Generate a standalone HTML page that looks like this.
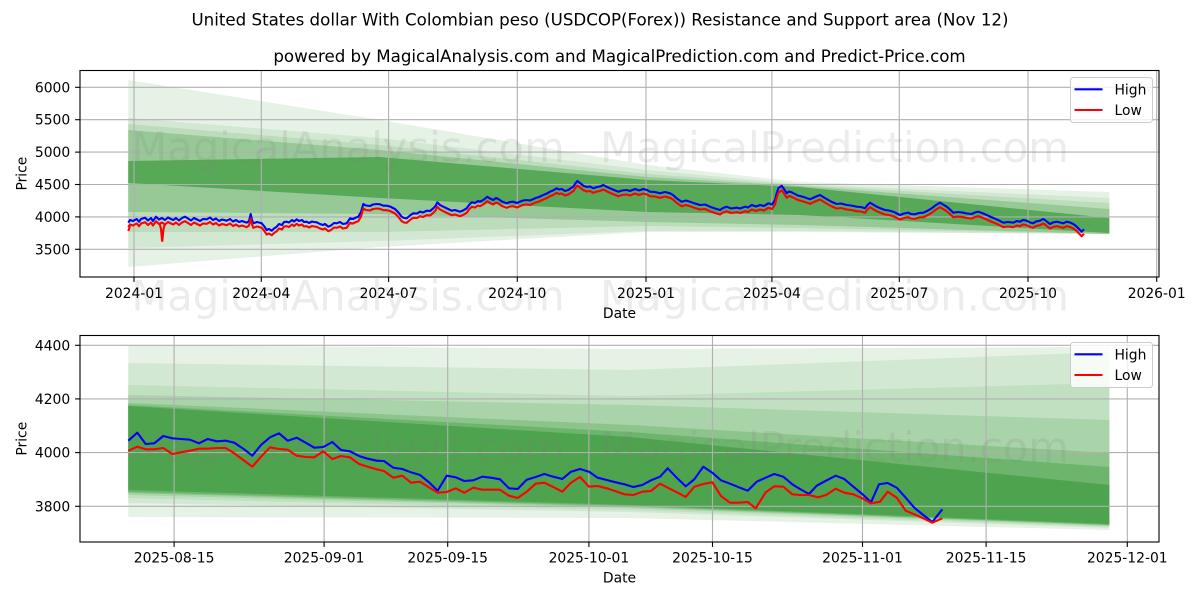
<!DOCTYPE html>
<html><head><meta charset="utf-8"><style>
html,body{margin:0;padding:0;background:#fff;}
svg{display:block;}
text{font-family:"DejaVu Sans","Liberation Sans",sans-serif;fill:#000;}
</style></head><body>
<svg width="1200" height="600" viewBox="0 0 1200 600" xmlns="http://www.w3.org/2000/svg">
<rect width="1200" height="600" fill="#fff"/>
<defs>
<polyline id="hiTop" fill="none" stroke-width="2.1" stroke-linejoin="round" points="128.3,222.7 130,220 133,221 136.7,219 139,221.7 141,219 145,217.7 148,220.5 151,218 153,221 156,216.7 159,219.5 162,218 165,220 168,217.5 171,219 173.3,220 176,218 179,220.5 182,218 185,216.7 188,218.5 191,220.5 194,218 197,219.5 200,221 203,219 206.7,219.3 210,217.5 213,220 216,218.5 219,221 222,219.5 226.7,220.7 230,219 233,221.5 236,220 239,222 242,221 246.7,222.7 249,221 250.7,214 252,220 253.3,223.3 257,222 261.7,223.3 264,226 266.7,230 269,229 271.7,230.7 274,228.5 276.7,226.7 279,224 282,225 284,222 286.7,221.7 289,222.5 292,220 294,221.5 296.7,219.3 299,221 302,220 304,222 306.7,221.7 309,223 312,221.5 314,222 316.7,222.3 320,224 323,225 325,224 328.3,226.7 331,225.5 334,223 336.7,223.3 340,222 343,224 346.7,223.3 350,218.3 353,219 356,217.5 358.3,216.7 361,212 363.3,204 366,205.5 370,206 373,204.5 376.7,204 380,204.3 383.3,205.7 386.7,205.7 390,206.5 395,209 398,212 401.7,216.7 404,218 406.7,218.3 410,215.5 413.3,213.3 417,213.5 420,211.7 423,212.5 426.7,210.7 430,211 433.3,208.3 435.5,206 437.3,202.3 440,205 443.3,206.7 447,208.5 451.7,210.7 455,210 460,211.7 463,210.5 466.7,208.3 469,205 471.7,202.3 475,203 478,201 480,201.7 484,199.5 487.3,196.7 490,198.5 493.3,200 496,198 498.3,199 502,201.5 506.7,203.3 510,202 513.3,201.7 517,203 520,201.7 523,200.5 526.7,200 530,200.5 535,198.3 539,197 543.3,195 547,193.5 550,191.7 553,190.5 556.7,188.3 559,189.5 561.7,189 565,191 568.3,190 571,188 573.3,186.7 575,184 577.3,181 580,183 583.3,185.7 587,187 590,186.5 593.3,188.3 597,187 600,186.5 603.3,185 606,186.5 610,188.3 614,190 618.3,191.7 622,190.5 626.7,190 630,191 635,189 639,190.5 643.3,189 647,190 650,191.7 655,192 660,193.3 665,192 670,193.3 673,195 676.7,198.3 679,200 681.7,201.7 686,200.5 691.7,202.3 695,203.5 700,205 705,204.5 710,206.7 715,208.5 720,210 723,208 726.7,206.7 731,208.5 736.7,207.7 740,208.5 745,206.7 748,207.5 751.7,205 756,206.5 760,205 764,206 768.3,203.3 772,204.5 775,200 776.5,194 778.3,188.3 781.7,185.7 784,189 786.7,193.3 789,191.5 791.7,192.3 795,194 798.3,195.7 800,196 805,197.5 810,199.3 815,197 820,195 824,197.5 828.3,200 832,202 836.7,204 841,203.5 846.7,205 851,205.5 856.7,206.7 861,207 865,208.3 867.5,205 870,202.7 873,204.5 876.7,206.7 881,208.5 885,210 889,210.5 893.3,211.7 897,213.5 900,215 904,213.5 908.3,212.7 911,214 915,214.3 919,213 923.3,212.7 927,211 931.7,208.3 936,205 940,202.7 943,204.5 946.7,206.7 950,209.5 953.3,212.7 958,212 963.3,212.7 967,213.5 971.7,214 975,212.5 978.3,211.7 982,213 986.7,215 991,217 996.7,219.3 1000,221 1003.3,222.7 1008,222 1013.3,222.7 1017,221 1020,221.7 1023,220 1026.7,220.7 1030,222.5 1033.3,223.3 1036,221.5 1040,220.7 1043,219 1045,220 1048,222.5 1050,224 1053,222.5 1056.7,221.7 1060,222.5 1063.3,223.3 1066.7,221.7 1070,222.5 1073.3,224 1076,226 1078.3,228.3 1081.7,231.7 1084,229.3"/>
</defs>

<!-- Titles -->
<text x="600" y="25.5" font-size="16.67" text-anchor="middle">United States dollar With Colombian peso (USDCOP(Forex)) Resistance and Support area (Nov 12)</text>
<text x="619.5" y="62" font-size="16.67" text-anchor="middle">powered by MagicalAnalysis.com and MagicalPrediction.com and Predict-Price.com</text>

<!-- ===== TOP AXES ===== -->
<g>
<polygon fill="#e5f2e5" points="128.3,80 380,120 647,165 800,182 1109.3,192 1109.3,234 800,232 647,232 380,247 128.3,267"/>
<polygon fill="#d2e8d2" points="128.3,118 380,138 647,170 800,184 1109.3,198 1109.3,234 800,231 647,231 380,241 128.3,248"/>
<polygon fill="#bcdcbc" points="128.3,124 380,145 647,174 800,185 1109.3,203 1109.3,234 800,228 647,226 380,232 128.3,232"/>
<polygon fill="#96c996" points="128.3,130 380,150 647,177 800,186 1109.3,209 1109.3,234 800,225 647,222 380,214 128.3,212"/>
<polygon fill="#57a857" points="128.3,161 380,157 647,180 800,187 1109.3,218 1109.3,233 800,215 647,212 380,198 128.3,183"/>
</g>
<g stroke="#b0b0b0" stroke-width="1.1">
<line x1="80" x2="1159" y1="87.3" y2="87.3"/>
<line x1="80" x2="1159" y1="119.7" y2="119.7"/>
<line x1="80" x2="1159" y1="152.1" y2="152.1"/>
<line x1="80" x2="1159" y1="184.5" y2="184.5"/>
<line x1="80" x2="1159" y1="216.9" y2="216.9"/>
<line x1="80" x2="1159" y1="249.3" y2="249.3"/>
<line y1="70.5" y2="277" x1="134" x2="134"/>
<line y1="70.5" y2="277" x1="261.3" x2="261.3"/>
<line y1="70.5" y2="277" x1="388.6" x2="388.6"/>
<line y1="70.5" y2="277" x1="517.3" x2="517.3"/>
<line y1="70.5" y2="277" x1="646" x2="646"/>
<line y1="70.5" y2="277" x1="771.9" x2="771.9"/>
<line y1="70.5" y2="277" x1="899.3" x2="899.3"/>
<line y1="70.5" y2="277" x1="1028" x2="1028"/>
<line y1="70.5" y2="277" x1="1156.7" x2="1156.7"/>
</g>
<!-- watermarks top -->
<g font-size="41.67" fill="#808080" fill-opacity="0.15" text-anchor="middle">
<text x="348" y="162" style="fill:#808080;fill-opacity:0.15">MagicalAnalysis.com</text>
<text x="834.5" y="162" style="fill:#808080;fill-opacity:0.15">MagicalPrediction.com</text>
<text x="348" y="310.5" style="fill:#808080;fill-opacity:0.15">MagicalAnalysis.com</text>
<text x="834.5" y="310.5" style="fill:#808080;fill-opacity:0.15">MagicalPrediction.com</text>
</g>
<!-- series top -->
<use href="#hiTop" stroke="#0000ff"/>
<use href="#hiTop" stroke="#ff0000" transform="translate(0,4.5)"/>
<polyline fill="none" stroke="#ff0000" stroke-width="2.1" points="159.5,223 161,229 162.2,241.7 163.5,229 165,224"/>
<polyline fill="none" stroke="#ff0000" stroke-width="2.1" points="128.3,231 130,226"/>
<!-- spines/ticks -->
<rect x="80" y="70.5" width="1079" height="206.5" fill="none" stroke="#000" stroke-width="1.1"/>
<g stroke="#000" stroke-width="1.1">
<line x1="75.1" x2="80" y1="87.3" y2="87.3"/>
<line x1="75.1" x2="80" y1="119.7" y2="119.7"/>
<line x1="75.1" x2="80" y1="152.1" y2="152.1"/>
<line x1="75.1" x2="80" y1="184.5" y2="184.5"/>
<line x1="75.1" x2="80" y1="216.9" y2="216.9"/>
<line x1="75.1" x2="80" y1="249.3" y2="249.3"/>
<line y1="277" y2="281.9" x1="134" x2="134"/>
<line y1="277" y2="281.9" x1="261.3" x2="261.3"/>
<line y1="277" y2="281.9" x1="388.6" x2="388.6"/>
<line y1="277" y2="281.9" x1="517.3" x2="517.3"/>
<line y1="277" y2="281.9" x1="646" x2="646"/>
<line y1="277" y2="281.9" x1="771.9" x2="771.9"/>
<line y1="277" y2="281.9" x1="899.3" x2="899.3"/>
<line y1="277" y2="281.9" x1="1028" x2="1028"/>
<line y1="277" y2="281.9" x1="1156.7" x2="1156.7"/>
</g>
<g font-size="13.89" text-anchor="end">
<text x="70.2" y="92.3">6000</text>
<text x="70.2" y="124.7">5500</text>
<text x="70.2" y="157.1">5000</text>
<text x="70.2" y="189.5">4500</text>
<text x="70.2" y="221.9">4000</text>
<text x="70.2" y="254.3">3500</text>
</g>
<g font-size="13.89" text-anchor="middle">
<text x="134" y="297.8">2024-01</text>
<text x="261.3" y="297.8">2024-04</text>
<text x="388.6" y="297.8">2024-07</text>
<text x="517.3" y="297.8">2024-10</text>
<text x="646" y="297.8">2025-01</text>
<text x="771.9" y="297.8">2025-04</text>
<text x="899.3" y="297.8">2025-07</text>
<text x="1028" y="297.8">2025-10</text>
<text x="1156.7" y="297.8">2026-01</text>
<text x="619.5" y="317.8">Date</text>
<text x="0" y="0" transform="translate(26.5,173.6) rotate(-90)">Price</text>
</g>
<!-- legend top -->
<rect x="1070.5" y="77.5" width="82" height="45" rx="2.8" fill="#fff" fill-opacity="0.8" stroke="#cccccc" stroke-width="1"/>
<line x1="1074.5" x2="1102.5" y1="89.3" y2="89.3" stroke="#0000ff" stroke-width="2.1"/>
<line x1="1074.5" x2="1102.5" y1="110" y2="110" stroke="#ff0000" stroke-width="2.1"/>
<text x="1114.5" y="94.3" font-size="13.89">High</text>
<text x="1114.5" y="115" font-size="13.89">Low</text>

<!-- ===== BOTTOM AXES ===== -->
<g>
<polygon fill="#e5f2e5" points="128.3,345 630,349 1109.3,347 1109.3,530 630,518 128.3,517"/>
<polygon fill="#d3e8d3" points="128.3,363 630,370 1109.3,352 1109.3,528 630,512 128.3,503"/>
<polygon fill="#c1dfc1" points="128.3,385 630,396 1109.3,383 1109.3,527 630,510 128.3,498"/>
<polygon fill="#a9d3a9" points="128.3,395 630,405 1109.3,420 1109.3,526 630,508 128.3,495"/>
<polygon fill="#8cc48c" points="128.3,403 630,425 1109.3,453 1109.3,525 630,507 128.3,493"/>
<polygon fill="#6db56d" points="128.3,405 630,432 1109.3,467 1109.3,525 630,506 128.3,492"/>
<polygon fill="#4ea34e" points="128.3,406 630,437 1109.3,485 1109.3,524 630,505 128.3,490"/>
</g>
<g stroke="#b0b0b0" stroke-width="1.1">
<line x1="80" x2="1159" y1="345.3" y2="345.3"/>
<line x1="80" x2="1159" y1="398.9" y2="398.9"/>
<line x1="80" x2="1159" y1="452.6" y2="452.6"/>
<line x1="80" x2="1159" y1="506.3" y2="506.3"/>
<line y1="335.5" y2="542" x1="174.1" x2="174.1"/>
<line y1="335.5" y2="542" x1="324.1" x2="324.1"/>
<line y1="335.5" y2="542" x1="447.7" x2="447.7"/>
<line y1="335.5" y2="542" x1="588.9" x2="588.9"/>
<line y1="335.5" y2="542" x1="712.5" x2="712.5"/>
<line y1="335.5" y2="542" x1="862.5" x2="862.5"/>
<line y1="335.5" y2="542" x1="986.1" x2="986.1"/>
<line y1="335.5" y2="542" x1="1127.3" x2="1127.3"/>
</g>
<g font-size="41.67" text-anchor="middle">
<text x="348" y="462" style="fill:#808080;fill-opacity:0.15">MagicalAnalysis.com</text>
<text x="834.5" y="462" style="fill:#808080;fill-opacity:0.15">MagicalPrediction.com</text>
</g>
<polyline fill="none" stroke="#0000ff" stroke-width="2.1" stroke-linejoin="round" points="128.3,440.7 137.3,432.7 145.7,444 154.3,443.3 163.3,436 172.3,438.3 181,439 190,439.7 199,443.3 207.7,439 216.7,441.3 225.7,440.7 234.3,442.7 243.3,448.7 252.3,455.7 261,445 270,437.3 279,433.3 287.7,440.7 296.7,437.7 305.7,442.7 314.3,447.7 323.3,447 332.3,442 341,450 350,451.3 359,456 367.7,458.7 376.7,460.7 384,461 393.3,467.7 402.3,469 411,472.3 420,475 429,482.3 437.7,490.7 446.7,475.7 455.7,477.3 464.3,481 473.3,480.3 482.3,476.7 491,477.7 500,479.3 509,488.3 517.7,489 526.7,479.7 535.7,477 544.3,474 553.3,476.7 562.3,479 571,471.7 580,469 589,471.7 597.7,477.7 606.7,480 615.7,482.3 624.3,484.3 633.3,487 642.3,485 651,480.3 660,476.7 667.7,468.3 676.7,477.7 685.7,486.3 694.3,479.3 703.3,466.7 712.3,472.7 721,480.3 730,483.7 739,487.3 747.7,490.7 756.7,481.7 765.7,477.7 774.3,474 783.3,476.7 792.3,484.3 800,489 809,494 816.7,485.7 826,480.7 835.7,475.7 844.3,479 853.3,486.7 862.3,494 871,502.3 879,484.3 887.7,483 896.7,487.7 905.7,497.7 914.3,507.7 923.3,515 932.3,522 942.3,509.3"/>
<polyline fill="none" stroke="#ff0000" stroke-width="2.1" stroke-linejoin="round" points="128.3,450.7 137.3,446.7 145.7,449.3 154.3,449.3 163.3,448 172.3,454 181,452.3 190,450.7 199,448.7 207.7,448.7 216.7,448 225.7,448 234.3,453.3 243.3,460 252.3,466.7 261,456.7 270,447.3 279,449 287.7,449.7 296.7,455.7 305.7,457 314.3,457.3 323.3,451.3 332.3,459 341,456 350,457.3 359,464 367.7,466.7 376.7,469.3 384,471 393.3,477.7 402.3,475.7 411,482.7 420,481.7 429,487.3 437.7,492.7 446.7,492 455.7,488.3 464.3,492.7 473.3,487.7 482.3,489.7 491,489.7 500,489.7 509,495.7 517.7,498 526.7,491.7 535.7,483.7 544.3,482.7 553.3,487 562.3,491.7 571,482.7 580,477 589,486.7 597.7,486 606.7,488.3 615.7,491.3 624.3,494.3 633.3,495 642.3,491.7 651,491 660,483.7 669,488.3 677.7,492.7 685.7,497 694.3,486.7 703.3,484 712.3,482.3 721,496 730,502.7 739,502.7 747.7,502 755.7,508.3 765.7,492.3 774.3,486.3 783.3,486.7 792.3,494.3 800,495 809,495 818.3,497.3 826,495 835.7,488.7 844.3,492.7 853.3,494.3 862.3,498.3 871,503.3 880,501.7 887.7,491.7 896.7,497.7 905.7,510.7 914.3,514.3 923.3,518.3 932.3,522.7 942.3,518.3"/>
<rect x="80" y="335.5" width="1079" height="206.5" fill="none" stroke="#000" stroke-width="1.1"/>
<g stroke="#000" stroke-width="1.1">
<line x1="75.1" x2="80" y1="345.3" y2="345.3"/>
<line x1="75.1" x2="80" y1="398.9" y2="398.9"/>
<line x1="75.1" x2="80" y1="452.6" y2="452.6"/>
<line x1="75.1" x2="80" y1="506.3" y2="506.3"/>
<line y1="542" y2="546.9" x1="174.1" x2="174.1"/>
<line y1="542" y2="546.9" x1="324.1" x2="324.1"/>
<line y1="542" y2="546.9" x1="447.7" x2="447.7"/>
<line y1="542" y2="546.9" x1="588.9" x2="588.9"/>
<line y1="542" y2="546.9" x1="712.5" x2="712.5"/>
<line y1="542" y2="546.9" x1="862.5" x2="862.5"/>
<line y1="542" y2="546.9" x1="986.1" x2="986.1"/>
<line y1="542" y2="546.9" x1="1127.3" x2="1127.3"/>
</g>
<g font-size="13.89" text-anchor="end">
<text x="70.2" y="350.3">4400</text>
<text x="70.2" y="403.9">4200</text>
<text x="70.2" y="457.6">4000</text>
<text x="70.2" y="511.3">3800</text>
</g>
<g font-size="13.89" text-anchor="middle">
<text x="174.1" y="562.5">2025-08-15</text>
<text x="324.1" y="562.5">2025-09-01</text>
<text x="447.7" y="562.5">2025-09-15</text>
<text x="588.9" y="562.5">2025-10-01</text>
<text x="712.5" y="562.5">2025-10-15</text>
<text x="862.5" y="562.5">2025-11-01</text>
<text x="986.1" y="562.5">2025-11-15</text>
<text x="1127.3" y="562.5">2025-12-01</text>
<text x="619.5" y="582.5">Date</text>
<text x="0" y="0" transform="translate(26.5,438.7) rotate(-90)">Price</text>
</g>
<rect x="1070.5" y="342.5" width="82" height="45" rx="2.8" fill="#fff" fill-opacity="0.8" stroke="#cccccc" stroke-width="1"/>
<line x1="1074.5" x2="1102.5" y1="354.3" y2="354.3" stroke="#0000ff" stroke-width="2.1"/>
<line x1="1074.5" x2="1102.5" y1="375" y2="375" stroke="#ff0000" stroke-width="2.1"/>
<text x="1114.5" y="359.3" font-size="13.89">High</text>
<text x="1114.5" y="380" font-size="13.89">Low</text>
</svg>
</body></html>
